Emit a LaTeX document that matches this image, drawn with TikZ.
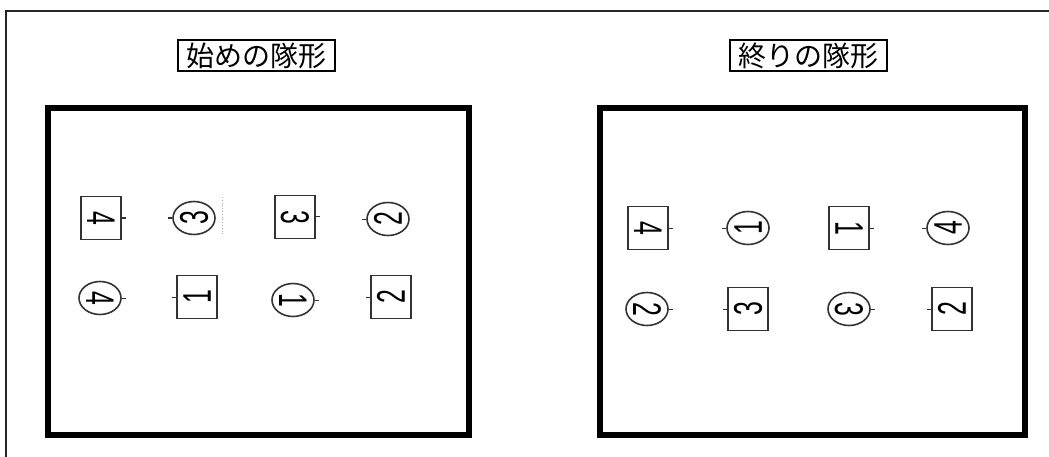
\documentclass[tikz,border=0pt]{standalone}
\usepackage{fontspec}
\setmainfont{Liberation Sans}
\newfontfamily\cjk{Noto Sans CJK JP}
\usetikzlibrary{shapes.geometric}
\begin{document}
\begin{tikzpicture}[x=1pt,y=-1pt,
  frameline/.style={line width=2.5pt, black!85},
  panel/.style={draw, line width=5.5pt},
  titlebox/.style={draw, line width=1.9pt, font=\cjk\fontsize{28}{28}\selectfont, inner sep=0pt, minimum width=157pt, minimum height=31pt},
  marker/.style={draw=black!80, line width=1.6pt, inner sep=0pt, font=\fontsize{40}{40}\selectfont},
  sq/.style={marker, rectangle, minimum width=43pt, minimum height=40pt},
  ov/.style={marker, ellipse, minimum width=33pt, minimum height=42pt},
  cw/.style={rotate=-90},
  ccw/.style={rotate=90},
  tickline/.style={line width=1pt, black!80},
  speck/.style={line width=0.8pt, black!35, dotted}
]
\newcommand\dg[1]{\scalebox{0.62}[1]{#1}}
\useasboundingbox (0,0) rectangle (1049,457);
% outer frame
\coordinate (fa) at (6,457);
\coordinate (fb) at (6,11);
\coordinate (fc) at (1049,11);
\draw[frameline] (fa) -- (fb) -- (fc);
% titles
\node[titlebox] (t1) at (256.5,55.5) {始めの隊形};
\node[titlebox] (t2) at (808.5,55.5) {終りの隊形};
% panels
\node[panel, minimum width=421pt, minimum height=327pt, inner sep=0pt] (p1) at (258.5,271.5) {};
\node[panel, minimum width=425pt, minimum height=327pt, inner sep=0pt] (p2) at (812.5,271.5) {};
% left panel, row 1
\node[sq,cw]  (l1) at (101,218) {\dg{4}};
\node[ov,ccw] (l2) at (194,218) {\dg{3}};
\node[sq,cw]  (l3) at (295,217) {\dg{3}};
\node[ov,ccw] (l4) at (388,219) {\dg{2}};
% left panel, row 2
\node[ov,cw]  (l5) at (100,298) {\dg{4}};
\node[sq,ccw] (l6) at (197,297) {\dg{1}};
\node[ov,cw]  (l7) at (293,300) {\dg{1}};
\node[sq,ccw] (l8) at (391,297) {\dg{2}};
% right panel, row 1
\node[sq,cw]  (r1) at (648,228) {\dg{4}};
\node[ov,ccw] (r2) at (748,228) {\dg{1}};
\node[sq,cw]  (r3) at (849,228) {\dg{1}};
\node[ov,ccw] (r4) at (948,228) {\dg{4}};
% right panel, row 2
\node[ov,cw]  (r5) at (647,309) {\dg{2}};
\node[sq,ccw] (r6) at (748,309) {\dg{3}};
\node[ov,cw]  (r7) at (849,309) {\dg{3}};
\node[sq,ccw] (r8) at (952,309) {\dg{2}};
% facing ticks
\foreach \n in {l1,l3,l5,l7,r1,r3,r5,r7}
  \draw[tickline] (\n.north) -- ++(4,0);
\foreach \n in {l2,l4,l6,l8,r2,r4,r6,r8}
  \draw[tickline] (\n.north) -- ++(-4,0);
% faint scan speck beside circle 3
\coordinate (s1) at (222,197);
\coordinate (s2) at (222,234);
\draw[speck] (s1) -- (s2);
\end{tikzpicture}
\end{document}
